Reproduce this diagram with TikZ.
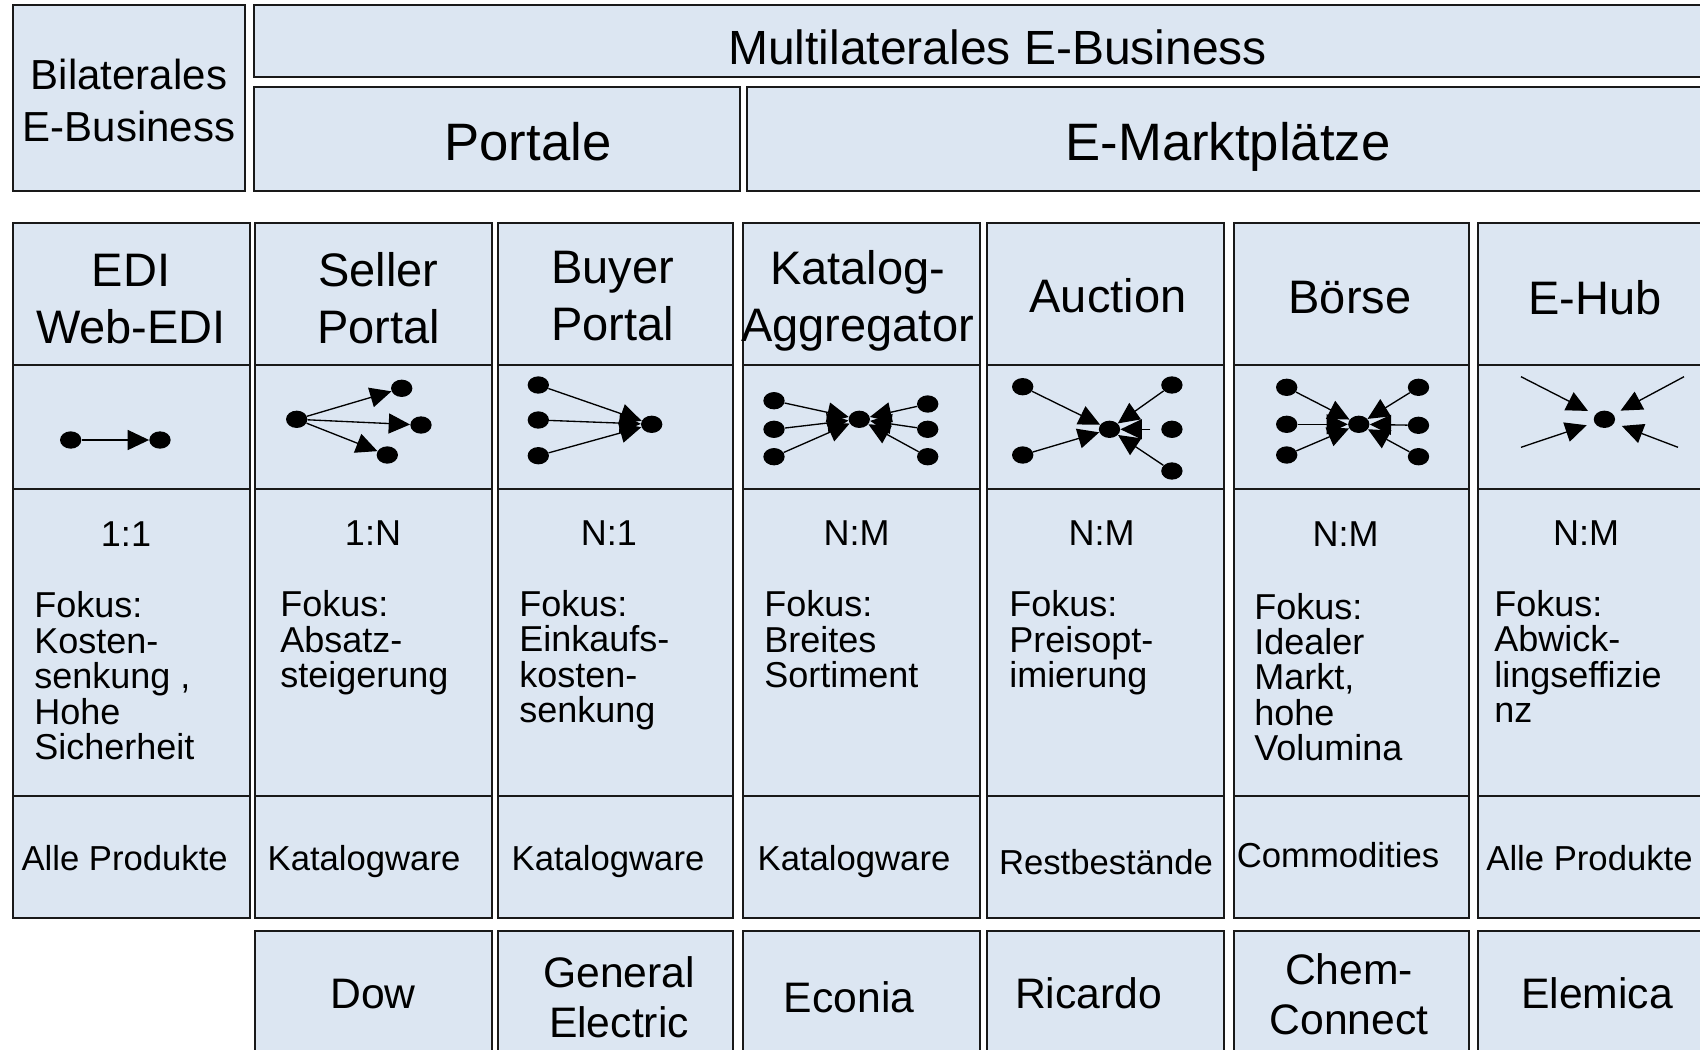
\documentclass[tikz,border=0pt]{standalone}
\usepackage{fontspec}
\setmainfont{Liberation Sans}
\usetikzlibrary{arrows.meta,shapes.geometric}

\begin{document}
\begin{tikzpicture}[x=0.75pt,y=0.75pt,yscale=-1,xscale=1,
	cell/.style={draw={rgb, 255:red, 25; green, 25; blue, 25}, line width=1.4pt, fill={rgb, 255:red, 220; green, 230; blue, 242}},
	dot/.style={ellipse, fill=black, minimum width=16pt, minimum height=13pt, inner sep=0pt},
	arr/.style={line width=1pt, -{Triangle[length=16pt,width=15pt]}},
	multi/.style={font=\fontsize{36}{43}\selectfont, anchor=base, inner sep=0pt},
	bil/.style={font=\fontsize{31.5}{39}\selectfont, align=center, anchor=base, inner sep=0pt},
	big/.style={font=\fontsize{39.5}{47}\selectfont, anchor=base, inner sep=0pt},
	hdr/.style={font=\fontsize{35.25}{42.75}\selectfont, align=center, anchor=base, inner sep=0pt},
	ratio/.style={font=\fontsize{27}{26.6}\selectfont, anchor=base, inner sep=0pt},
	fokus/.style={font=\fontsize{27}{26.6}\selectfont, align=left, anchor=base west, inner sep=0pt},
	prod/.style={font=\fontsize{26}{31}\selectfont, anchor=base, inner sep=0pt},
	firm/.style={font=\fontsize{32}{37.5}\selectfont, align=center, anchor=base, inner sep=0pt}]
		\useasboundingbox (0,0) rectangle (1700,1050);
		\clip (0,0) rectangle (1700,1050);
		% top rows
		\draw [cell] (13,5) rectangle (245,191);
		\draw [cell] (254,5) rectangle (1720,77);
		\draw [cell] (254,87) rectangle (740,191);
		\draw [cell] (747,87) rectangle (1720,191);
		% column EDI
		\draw [cell] (13,223) rectangle (250,365);
		\draw [cell] (13,365) rectangle (250,489);
		\draw [cell] (13,489) rectangle (250,796);
		\draw [cell] (13,796) rectangle (250,918);
		% column Seller Portal
		\draw [cell] (255,223) rectangle (492,365);
		\draw [cell] (255,365) rectangle (492,489);
		\draw [cell] (255,489) rectangle (492,796);
		\draw [cell] (255,796) rectangle (492,918);
		\draw [cell] (255,931) rectangle (492,1060);
		% column Buyer Portal
		\draw [cell] (498,223) rectangle (733,365);
		\draw [cell] (498,365) rectangle (733,489);
		\draw [cell] (498,489) rectangle (733,796);
		\draw [cell] (498,796) rectangle (733,918);
		\draw [cell] (498,931) rectangle (733,1060);
		% column Katalog-Aggregator
		\draw [cell] (743,223) rectangle (980,365);
		\draw [cell] (743,365) rectangle (980,489);
		\draw [cell] (743,489) rectangle (980,796);
		\draw [cell] (743,796) rectangle (980,918);
		\draw [cell] (743,931) rectangle (980,1060);
		% column Auction
		\draw [cell] (987,223) rectangle (1224,365);
		\draw [cell] (987,365) rectangle (1224,489);
		\draw [cell] (987,489) rectangle (1224,796);
		\draw [cell] (987,796) rectangle (1224,918);
		\draw [cell] (987,931) rectangle (1224,1060);
		% column Boerse
		\draw [cell] (1234,223) rectangle (1469,365);
		\draw [cell] (1234,365) rectangle (1469,489);
		\draw [cell] (1234,489) rectangle (1469,796);
		\draw [cell] (1234,796) rectangle (1469,918);
		\draw [cell] (1234,931) rectangle (1469,1060);
		% column E-Hub
		\draw [cell] (1478,223) rectangle (1715,365);
		\draw [cell] (1478,365) rectangle (1715,489);
		\draw [cell] (1478,489) rectangle (1715,796);
		\draw [cell] (1478,796) rectangle (1715,918);
		\draw [cell] (1478,931) rectangle (1715,1060);

		% headings (multi-line nodes sit on their last line)
		\draw (129,141) node [bil] (bilat) {Bilaterales\\E-Business};
		\draw (997.5,64) node [multi] (multi) {Multilaterales E-Business};
		\draw (528,160.5) node [big] (portale) {Portale};
		\draw (1228,160.5) node [big] (emarkt) {E-Marktplätze};
		\draw (131,343.7) node [hdr] (hedi) {EDI\\Web-EDI};
		\draw (378.5,343.7) node [hdr] (hseller) {Seller\\Portal};
		\draw (612.5,340) node [hdr] (hbuyer) {Buyer\\Portal};
		\draw (857.6,341.5) node [hdr] (hkat) {Katalog-\\Aggregator};
		\draw (1108,312) node [hdr] (hauc) {Auction};
		\draw (1350,313) node [hdr] (hboe) {Börse};
		\draw (1595,314) node [hdr] (hhub) {E-Hub};

		% icons
		\node [dot] (edia) at (70.7,440) {};
		\node [dot] (edib) at (160,440) {};
		\draw [arr] (edia) -- (edib);

		\node [dot] (sels) at (296.7,419.3) {};
		\node [dot] (selt1) at (401.7,388.3) {};
		\node [dot] (selt2) at (421,425) {};
		\node [dot] (selt3) at (387.3,455) {};
		\draw [arr] (sels) -- (selt1);
		\draw [arr] (sels) -- (selt2);
		\draw [arr] (sels) -- (selt3);

		\node [dot] (buys1) at (538.3,385) {};
		\node [dot] (buys2) at (538.3,420) {};
		\node [dot] (buys3) at (538.3,455.7) {};
		\node [dot] (buyt) at (651.7,424.3) {};
		\draw [arr] (buys1) -- (buyt);
		\draw [arr] (buys2) -- (buyt);
		\draw [arr] (buys3) -- (buyt);

		\node [dot] (katl1) at (774,400.7) {};
		\node [dot] (katl2) at (774,429.3) {};
		\node [dot] (katl3) at (774,456.7) {};
		\node [dot] (katc) at (859.3,419.3) {};
		\node [dot] (katr1) at (927.7,404) {};
		\node [dot] (katr2) at (927.7,429.3) {};
		\node [dot] (katr3) at (927.7,456.7) {};
		\draw [arr] (katl1) -- (katc);
		\draw [arr] (katl2) -- (katc);
		\draw [arr] (katl3) -- (katc);
		\draw [arr] (katr1) -- (katc);
		\draw [arr] (katr2) -- (katc);
		\draw [arr] (katr3) -- (katc);

		\node [dot] (aucl1) at (1022.7,386.7) {};
		\node [dot] (aucl2) at (1022.7,455) {};
		\node [dot] (aucc) at (1109.5,429.3) {};
		\node [dot] (aucr1) at (1171.9,385) {};
		\node [dot] (aucr2) at (1171.9,429.3) {};
		\node [dot] (aucr3) at (1171.9,471) {};
		\draw [arr] (aucl1) -- (aucc);
		\draw [arr] (aucl2) -- (aucc);
		\draw [arr] (aucr1) -- (aucc);
		\draw [arr, shorten <=8pt] (aucr2) -- (aucc);
		\draw [arr] (aucr3) -- (aucc);

		\node [dot] (boel1) at (1286.7,387.3) {};
		\node [dot] (boel2) at (1286.7,424.3) {};
		\node [dot] (boel3) at (1286.7,455) {};
		\node [dot] (boec) at (1358.8,424.3) {};
		\node [dot] (boer1) at (1418.5,387.3) {};
		\node [dot] (boer2) at (1418.5,425.3) {};
		\node [dot] (boer3) at (1418.5,456.7) {};
		\draw [arr] (boel1) -- (boec);
		\draw [arr] (boel2) -- (boec);
		\draw [arr] (boel3) -- (boec);
		\draw [arr] (boer1) -- (boec);
		\draw [arr] (boer2) -- (boec);
		\draw [arr] (boer3) -- (boec);

		\node [dot] (hubc) at (1604.4,419.3) {};
		\coordinate (hub1) at (1521,376.7);
		\coordinate (hub2) at (1684,376.7);
		\coordinate (hub3) at (1521,447.3);
		\coordinate (hub4) at (1678,447.3);
		\draw [arr, shorten >=6pt] (hub1) -- (hubc);
		\draw [arr, shorten >=6pt] (hub2) -- (hubc);
		\draw [arr, shorten >=6pt] (hub3) -- (hubc);
		\draw [arr, shorten >=6pt] (hub4) -- (hubc);

		% relation and focus
		\draw (126,546.7) node [ratio] (redi) {1:1};
		\draw (373,545) node [ratio] (rseller) {1:N};
		\draw (609,545) node [ratio] (rbuyer) {N:1};
		\draw (856.5,545) node [ratio] (rkat) {N:M};
		\draw (1101.5,545) node [ratio] (rauc) {N:M};
		\draw (1345.5,546.7) node [ratio] (rboe) {N:M};
		\draw (1586,545) node [ratio] (rhub) {N:M};
		\draw (34,759.6) node [fokus] (fedi) {Fokus:\\Kosten-\\senkung ,\\Hohe\\Sicherheit};
		\draw (280,687.5) node [fokus] (fseller) {Fokus:\\Absatz-\\steigerung};
		\draw (519,722.9) node [fokus] (fbuyer) {Fokus:\\Einkaufs-\\kosten-\\senkung};
		\draw (764,687.5) node [fokus] (fkat) {Fokus:\\Breites\\Sortiment};
		\draw (1009,687.5) node [fokus] (fauc) {Fokus:\\Preisopt-\\imierung};
		\draw (1254,760.9) node [fokus] (fboe) {Fokus:\\Idealer\\Markt,\\hohe\\Volumina};
		\draw (1494,722.9) node [fokus] (fhub) {Fokus:\\Abwick-\\lingseffizie\\nz};

		% products
		\draw (124.7,870.6) node [prod] (pedi) {Alle Produkte};
		\draw (364,870.6) node [prod] (pseller) {Katalogware};
		\draw (608,870.6) node [prod] (pbuyer) {Katalogware};
		\draw (854,870.6) node [prod] (pkat) {Katalogware};
		\draw (1106,874) node [prod] (pauc) {Restbestände};
		\draw (1338,867.4) node [prod] (pboe) {Commodities};
		\draw (1589.5,870.6) node [prod] (phub) {Alle Produkte};

		% examples
		\draw (373,1008) node [firm] (bdow) {Dow};
		\draw (619,1037.6) node [firm] (bge) {General\\Electric};
		\draw (849,1012.6) node [firm] (beconia) {Econia};
		\draw (1088.5,1008) node [firm] (bricardo) {Ricardo};
		\draw (1349,1034) node [firm] (bchem) {Chem-\\Connect};
		\draw (1597,1008) node [firm] (belemica) {Elemica};
\end{tikzpicture}
\end{document}
